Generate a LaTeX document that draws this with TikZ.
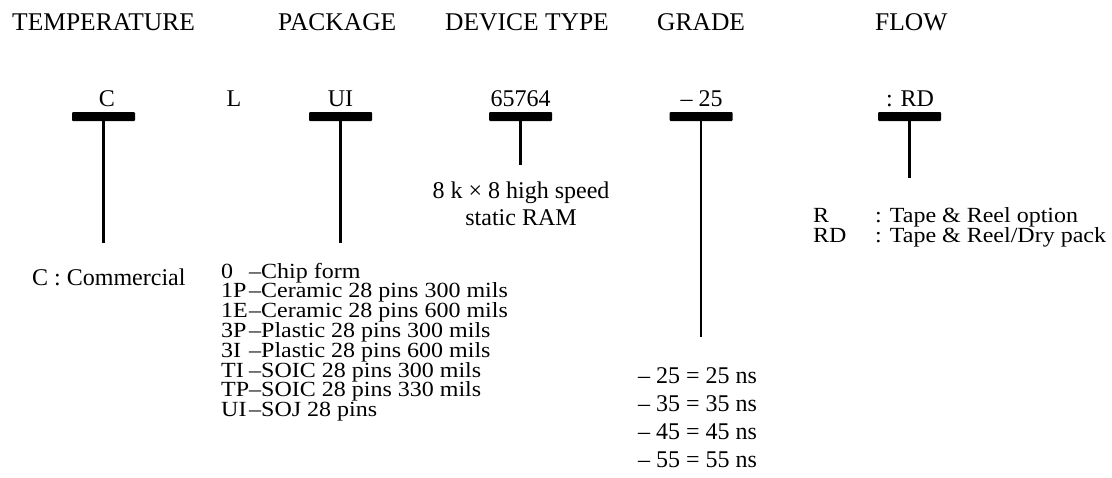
\documentclass[tikz,border=0pt]{standalone}
\usepackage{graphicx}
\usepackage{fontspec}
\setmainfont{Liberation Serif}
\newcommand{\squeezed}[1]{\scalebox{1}[0.9]{#1}}

\begin{document}
\begin{tikzpicture}[x=1pt,y=-1pt,line join=round,
  txt/.style={inner sep=0pt,font=\fontsize{24}{24}\selectfont},
  head/.style={inner sep=0pt,anchor=base west,font=\fontsize{25.5}{26}\selectfont},
  bar/.style={fill=black,rounded corners=1pt,minimum width=63pt,minimum height=9pt,inner sep=0pt},
  stem/.style={line width=2.2pt}]
\useasboundingbox (0,0) rectangle (1112,477);
\foreach \n/\x/\t in {temp/12/TEMPERATURE,pack/278/PACKAGE,dev/445/DEVICE TYPE,grade/657/GRADE,flow/875/FLOW}
  \node[head] (\n) at (\x,30) {\t};
\foreach \n/\x/\tx/\e/\c in {tmp/103.5/107/243/C,pkg/340.5/340.5/243/UI,dvc/520.5/520.5/165/65764,grd/701/701.5/337/– 25,flw/909.5/910/178/: RD}{
  \node[txt,anchor=base] (code\n) at (\tx,106) {\c};
  \node[bar] (bar\n) at (\x,116.5) {};
  \coordinate (end\n) at (\x,\e);
  \draw[stem] (bar\n.south) -- (end\n);}
\node[txt,anchor=base] (codel) at (234,106) {L};
\node[txt,anchor=base west] (comm) at (32,285) {C : Commercial};
\foreach \c/\d [count=\i from 0] in {0/Chip form,1P/Ceramic 28 pins 300 mils,1E/Ceramic 28 pins 600 mils,3P/Plastic 28 pins 300 mils,3I/Plastic 28 pins 600 mils,TI/SOIC 28 pins 300 mils,TP/SOIC 28 pins 330 mils,UI/SOJ 28 pins}
  \node[txt,anchor=base west] (pkg\i) at (221,{278+19.8*\i}) {\squeezed{\makebox[28pt][l]{\c}–\d}};
\node[txt,anchor=base] (dvc1) at (521,198) {8 k × 8 high speed};
\node[txt,anchor=base] (dvc2) at (521,225) {static RAM};
\foreach \g [count=\i from 0] in {25,35,45,55}
  \node[txt,anchor=base west] (grd\i) at (638,{383+28*\i}) {– \g\ = \g\ ns};
\node[txt,anchor=base west] (flw0) at (813,222) {\squeezed{\makebox[62pt][l]{R}: Tape \& Reel option}};
\node[txt,anchor=base west] (flw1) at (813,242) {\squeezed{\makebox[62pt][l]{RD}: Tape \& Reel/Dry pack}};
\end{tikzpicture}
\end{document}
